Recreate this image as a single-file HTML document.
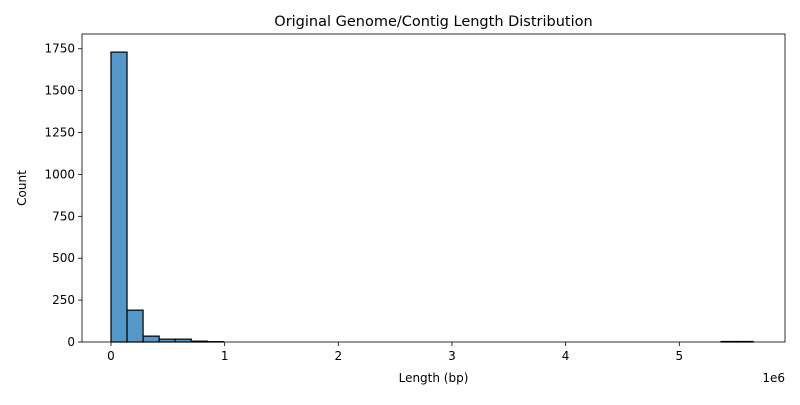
<!DOCTYPE html>
<html><head><meta charset="utf-8"><style>
body{margin:0;background:#fff;font-family:"Liberation Sans","DejaVu Sans",sans-serif;}
text{font-family:"DejaVu Sans","Liberation Sans",sans-serif;}
</style></head><body>
<svg id="chart" width="800" height="400" xmlns="http://www.w3.org/2000/svg">
<rect width="800" height="400" fill="#fff"/>
<g id="plot"></g>
</svg>
<script>
const binWidth = 0.14125; // in 1e6 bp
const counts = [1730,190,35,17,17,5,2,0,0,0,0,0,0,0,0,0,0,0,0,0,0,0,0,0,0,0,0,0,0,0,0,0,0,0,0,0,0,0,3,3];
const xTicks = [0,1,2,3,4,5];
const yTicks = [0,250,500,750,1000,1250,1500,1750];
const L=82,R=785,T=34,B=342;
const xMin=-0.255,xMax=5.93,yMax=1838;
const sx=v=>L+(v-xMin)/(xMax-xMin)*(R-L);
const sy=v=>B-v/yMax*(B-T);
const g=document.getElementById('plot');
const NS='http://www.w3.org/2000/svg';
function mk(tag,attrs){const e=document.createElementNS(NS,tag);for(const k in attrs)e.setAttribute(k,attrs[k]);g.appendChild(e);return e;}
counts.forEach((c,i)=>{
  const x0=sx(i*binWidth),x1=sx((i+1)*binWidth);
  const r=mk('rect',{x:x0,y:sy(c),width:x1-x0,height:B-sy(c),fill:'#5497c8',stroke:'#000','stroke-width':1.2});
  
  
});
xTicks.forEach(t=>{
  const x=sx(t);
  const l=mk('line',{x1:x,x2:x,y1:B,y2:B+4,stroke:'#000','stroke-width':0.8});
  
  
  const tx=mk('text',{x:x,y:B+18,'text-anchor':'middle','font-size':12});
  tx.textContent=t;
  
  
});
yTicks.forEach(t=>{
  const y=sy(t);
  const l=mk('line',{x1:L-4,x2:L,y1:y,y2:y,stroke:'#000','stroke-width':0.8});
  
  
  const tx=mk('text',{x:L-7,y:y+4,'text-anchor':'end','font-size':12});
  tx.textContent=t;
  
  
});
const frame=mk('rect',{x:L,y:T,width:R-L,height:B-T,fill:'none',stroke:'#000','stroke-width':0.8});


const title=mk('text',{x:(L+R)/2,y:T-8,'text-anchor':'middle','font-size':14.5});
title.textContent='Original Genome/Contig Length Distribution';


const xl=mk('text',{x:(L+R)/2,y:382,'text-anchor':'middle','font-size':12});
xl.textContent='Length (bp)';


const off=mk('text',{x:R,y:382,'text-anchor':'end','font-size':12});
off.textContent='1e6';


const yl=mk('text',{x:26,y:(T+B)/2,'text-anchor':'middle','font-size':12,transform:'rotate(-90 26 '+((T+B)/2)+')'});
yl.textContent='Count';


</script>
</body></html>
